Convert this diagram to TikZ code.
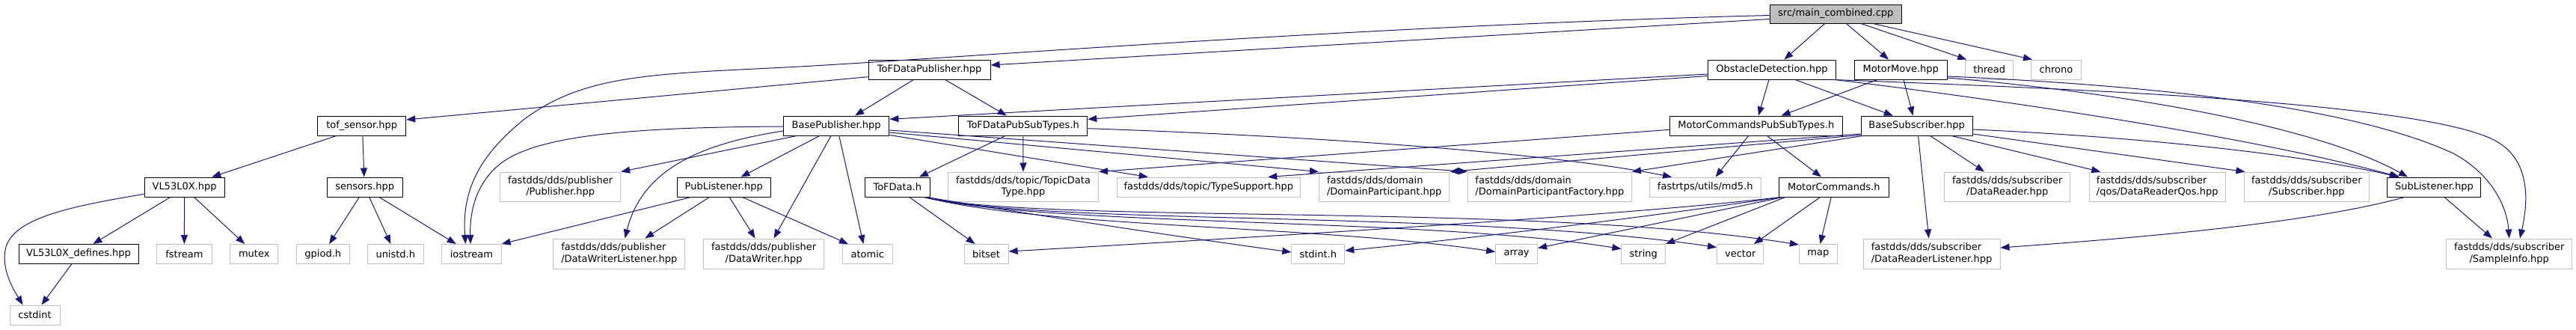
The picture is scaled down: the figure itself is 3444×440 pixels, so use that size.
\documentclass[tikz,border=0pt]{standalone}
\usepackage{fontspec}
\setmainfont{DejaVu Sans}
\usetikzlibrary{arrows.meta,calc}
\definecolor{edgeblue}{HTML}{191970}
\definecolor{grey75}{HTML}{BFBFBF}
\newcommand\dgfont{\fontsize{13}{15.3}\selectfont}
\begin{document}
\begin{tikzpicture}[x=1pt,y=-1pt,
  box/.style={rectangle, inner sep=0pt, line width=1pt, fill=white, text=black, font=\dgfont, minimum height=26pt},
  doc/.style={box, draw=black},
  ext/.style={box, draw=grey75},
  two/.style={minimum height=39pt, align=center},
  twol/.style={minimum height=39pt, align=left},
  dep/.style={draw=edgeblue, line width=1pt, -{Triangle[length=12pt,width=9pt]}}]
\fill[white] (0,0) rectangle (3444,440);
\useasboundingbox (0,0) rectangle (3444,440);

% row 0/1
\node[doc, fill=grey75, minimum width=176pt, minimum height=25pt] (main) at (2454.3,18.5) {src/main\_combined.cpp};
\node[doc, minimum width=170.7pt] (obst) at (2369,93) {ObstacleDetection.hpp};
\node[doc, minimum width=124pt] (mmove) at (2541.2,93) {MotorMove.hpp};
\node[ext, minimum width=64pt] (thread) at (2659.7,93) {thread};
\node[ext, minimum width=67pt] (chrono) at (2749,93) {chrono};
\node[doc, minimum width=163pt] (tofpub) at (1242.6,93) {ToFDataPublisher.hpp};
% row 2
\node[doc, minimum width=118pt] (tofsens) at (483.7,168) {tof\_sensor.hpp};
\node[doc, minimum width=141.4pt] (basepub) at (1118.2,168) {BasePublisher.hpp};
\node[doc, minimum width=172pt] (tofpst) at (1367.8,168) {ToFDataPubSubTypes.h};
\node[doc, minimum width=230.6pt] (mcpst) at (2347.8,168) {MotorCommandsPubSubTypes.h};
\node[doc, minimum width=149pt] (basesub) at (2562.6,168) {BaseSubscriber.hpp};
% row 3
\node[doc, minimum width=107pt] (vl) at (246.6,250) {VL53L0X.hpp};
\node[doc, minimum width=100.6pt] (sensors) at (487.7,250) {sensors.hpp};
\node[ext, two, minimum width=161pt] (publisher) at (749.2,249.5) {fastdds/dds/publisher\\/Publisher.hpp};
\node[doc, minimum width=125pt] (publ) at (967.7,250) {PubListener.hpp};
\node[doc, minimum width=87pt] (tofdata) at (1199.8,250) {ToFData.h};
\node[ext, two, minimum width=201pt] (topicdt) at (1368,249.5) {fastdds/dds/topic/TopicData\\Type.hpp};
\node[ext, minimum width=245pt] (typesup) at (1615.8,250) {fastdds/dds/topic/TypeSupport.hpp};
\node[ext, twol, minimum width=174.5pt] (dompart) at (1850.7,249.5) {fastdds/dds/domain\\/DomainParticipant.hpp};
\node[ext, twol, minimum width=219pt] (dompf) at (2071.9,249.5) {fastdds/dds/domain\\/DomainParticipantFactory.hpp};
\node[ext, minimum width=149pt] (md5) at (2279.7,250) {fastrtps/utils/md5.h};
\node[doc, minimum width=146.5pt] (mcmd) at (2451.8,250) {MotorCommands.h};
\node[ext, two, minimum width=168pt] (dreader) at (2683.7,249.5) {fastdds/dds/subscriber\\/DataReader.hpp};
\node[ext, twol, minimum width=182.4pt] (drqos) at (2884.2,249.5) {fastdds/dds/subscriber\\/qos/DataReaderQos.hpp};
\node[ext, two, minimum width=167.6pt] (subscr) at (3083.8,249.5) {fastdds/dds/subscriber\\/Subscriber.hpp};
\node[doc, minimum width=125pt] (sublist) at (3254.4,250) {SubListener.hpp};
% row 4
\node[doc, minimum width=160pt] (vldef) at (105,339.5) {VL53L0X\_defines.hpp};
\node[ext, minimum width=73.5pt] (fstream) at (246.4,339.5) {fstream};
\node[ext, minimum width=64pt] (mutex) at (339.8,339.5) {mutex};
\node[ext, minimum width=71pt] (gpiod) at (431.8,339.5) {gpiod.h};
\node[ext, minimum width=75pt] (unistd) at (528.8,339.5) {unistd.h};
\node[ext, minimum width=79.6pt] (iostream) at (630.4,339.5) {iostream};
\node[ext, twol, minimum width=176pt, minimum height=40pt] (dwl) at (827.8,339) {fastdds/dds/publisher\\/DataWriterListener.hpp};
\node[ext, two, minimum width=161.4pt, minimum height=40pt] (dw) at (1021.1,339) {fastdds/dds/publisher\\/DataWriter.hpp};
\node[ext, minimum width=66.6pt] (atomic) at (1159.8,339.5) {atomic};
\node[ext, minimum width=59pt] (bitset) at (1318.6,339.5) {bitset};
\node[ext, minimum width=71pt] (stdint) at (1762.3,339.5) {stdint.h};
\node[ext, minimum width=56pt] (array) at (2027.6,339.5) {array};
\node[ext, minimum width=58.5pt] (string) at (2197.2,339.5) {string};
\node[ext, minimum width=62.4pt] (vector) at (2326.7,339.5) {vector};
\node[ext, minimum width=51pt] (map) at (2430.8,339.5) {map};
\node[ext, twol, minimum width=183pt, minimum height=40pt] (drl) at (2582.5,339) {fastdds/dds/subscriber\\/DataReaderListener.hpp};
\node[ext, two, minimum width=168pt, minimum height=40pt] (sinfo) at (3354.7,339) {fastdds/dds/subscriber\\/SampleInfo.hpp};
% row 5
\node[ext, minimum width=67pt] (cstdint) at (46.5,421) {cstdint};

% main
\draw[dep] ($(main.south)+(-14.6,0)$) -- ($(obst.north)+(16.4,0)$);
\draw[dep] ($(main.south)+(14.1,0)$) -- ($(mmove.north)+(-16.2,0)$);
\draw[dep] ($(main.south)+(33.7,0)$) -- ($(thread.north west)+(2,0)$);
\draw[dep] ($(main.south)+(49.7,0)$) -- ($(chrono.north west)+(2,0)$);
\draw[dep] ($(main.west)+(0,7)$) -- ($(tofpub.east)+(0,-6)$);
\draw[dep] ($(main.west)+(0,2)$) .. controls (1800,35) and (1250,80) .. (1050,90) .. controls (870,99) and (780,100) .. (700,160) .. controls (645,205) and (617,250) .. ($(iostream.north)+(-8,0)$);
% obstacle detection
\draw[dep] ($(obst.south)+(-4,0)$) -- ($(mcpst.north)+(3.2,0)$);
\draw[dep] ($(obst.south)+(31,0)$) -- ($(basesub.north)+(-31.8,0)$);
\draw[dep] ($(obst.west)+(0,6)$) -- ($(basepub.east)+(0,-8.7)$);
\draw[dep] ($(obst.west)+(0,8.5)$) -- ($(tofpst.east)+(0,-8.7)$);
\draw[dep] ($(obst.south east)+(-2,0)$) .. controls (2650,130) and (3000,180) .. ($(sublist.north)+(-46.4,0)$);
\draw[dep] ($(obst.south east)+(-3,0)$) .. controls (2750,118) and (3220,135) .. (3330,185) .. controls (3385,210) and (3380,270) .. ($(sinfo.north)+(14.3,0)$);
% motor move
\draw[dep] ($(mmove.south)+(-31.4,0)$) -- ($(mcpst.north)+(33.8,0)$);
\draw[dep] ($(mmove.south)+(3.8,0)$) -- ($(basesub.north)+(-5,0)$);
\draw[dep] ($(mmove.east)+(0,11)$) .. controls (2850,125) and (3100,170) .. ($(sublist.north)+(-35.4,0)$);
\draw[dep] ($(mmove.east)+(0,9)$) .. controls (2900,115) and (3150,145) .. (3280,205) .. controls (3335,235) and (3352,280) .. (sinfo.north);
% base subscriber
\draw[dep] ($(basesub.east)+(0,5)$) .. controls (2800,180) and (3050,200) .. ($(sublist.north)+(-47.8,0)$);
\draw[dep] ($(basesub.east)+(0,11)$) -- ($(subscr.north west)+(2,0)$);
\draw[dep] ($(basesub.south)+(18,0)$) -- ($(dreader.north)+(-30.7,0)$);
\draw[dep] ($(basesub.south)+(46.4,0)$) -- ($(drqos.north)+(-76,0)$);
\draw[dep] ($(basesub.south)+(1.9,0)$) -- ($(drl.north)+(-3.8,0)$);
\draw[dep] ($(basesub.west)+(0,11)$) -- ($(typesup.north)+(79.5,0)$);
\draw[dep] ($(basesub.west)+(0,12.5)$) -- (dompart.north east);
\draw[dep] ($(basesub.south west)+(3,0)$) -- (dompf.north east);
% base publisher
\draw[dep] ($(basepub.west)+(0,1)$) .. controls (850,170) and (720,180) .. (670,218) .. controls (635,245) and (628,285) .. ($(iostream.north)+(-1.4,0)$);
\draw[dep] ($(basepub.west)+(0,7)$) .. controls (950,190) and (860,220) .. ($(dwl.north)+(7.7,0)$);
\draw[dep] ($(basepub.south)+(-53.2,0)$) -- (publisher.north east);
\draw[dep] ($(basepub.south)+(-22.5,0)$) -- ($(publ.north)+(22.8,0)$);
\draw[dep] ($(basepub.south)+(-7.2,0)$) -- ($(dw.north)+(13.4,0)$);
\draw[dep] ($(basepub.south)+(3.6,0)$) -- ($(atomic.north)+(-5.4,0)$);
\draw[dep] ($(basepub.south east)+(0,-1)$) -- ($(typesup.north)+(-81,0)$);
\draw[dep] ($(basepub.east)+(0,9)$) -- (dompart.north west);
\draw[dep] ($(basepub.east)+(0,6)$) -- (dompf.north west);
% tof data publisher
\draw[dep] ($(tofpub.west)+(0,9.7)$) -- ($(tofsens.east)+(0,-8)$);
\draw[dep] ($(tofpub.south)+(-21.2,0)$) -- ($(basepub.north)+(24.8,0)$);
\draw[dep] ($(tofpub.south)+(20.9,0)$) -- ($(tofpst.north)+(-22,0)$);
% tof pubsub types
\draw[dep] ($(tofpst.south)+(-23.9,0)$) -- ($(tofdata.north)+(29.2,0)$);
\draw[dep] (tofpst.south) -- (topicdt.north);
\draw[dep] ($(tofpst.east)+(0,3.7)$) .. controls (1700,180) and (2050,200) .. ($(md5.north)+(-44.7,0)$);
% motor commands pubsub types
\draw[dep] ($(mcpst.west)+(0,5.3)$) -- (topicdt.north east);
\draw[dep] ($(mcpst.south)+(-10.2,0)$) -- ($(md5.north)+(13.9,0)$);
\draw[dep] ($(mcpst.south)+(14.7,0)$) -- ($(mcmd.north)+(-16.8,0)$);
% tof sensor
\draw[dep] ($(tofsens.south)+(-34,0)$) -- ($(vl.north)+(36.6,0)$);
\draw[dep] ($(tofsens.south)+(1.2,0)$) -- ($(sensors.north)+(-0.9,0)$);
% VL53L0X
\draw[dep] ($(vl.west)+(0,9.3)$) .. controls (100,275) and (20,290) .. (8,330) .. controls (0,360) and (20,390) .. ($(cstdint.north)+(-15.9,0)$);
\draw[dep] ($(vl.south)+(-18.9,0)$) -- ($(vldef.north)+(19.4,0)$);
\draw[dep] (vl.south) -- (fstream.north);
\draw[dep] ($(vl.south)+(12.9,0)$) -- ($(mutex.north)+(-12.6,0)$);
\draw[dep] ($(vldef.south)+(-9.3,0)$) -- ($(cstdint.north)+(9,0)$);
% sensors
\draw[dep] ($(sensors.south)+(-7.4,0)$) -- ($(gpiod.north)+(8.3,0)$);
\draw[dep] ($(sensors.south)+(6,0)$) -- ($(unistd.north)+(-6.4,0)$);
\draw[dep] ($(sensors.south)+(19.3,0)$) -- ($(iostream.north)+(-20.7,0)$);
% pub listener
\draw[dep] ($(publ.south)+(-44.2,0)$) -- (iostream.north east);
\draw[dep] ($(publ.south)+(-19.3,0)$) -- ($(dwl.north)+(34.5,0)$);
\draw[dep] ($(publ.south)+(7.5,0)$) -- ($(dw.north)+(-11.5,0)$);
\draw[dep] ($(publ.south)+(24.7,0)$) -- ($(atomic.north)+(-25.8,0)$);
% tof data
\draw[dep] ($(tofdata.south)+(16,0)$) -- ($(bitset.north)+(-15,0)$);
\draw[dep] ($(tofdata.south east)+(-5,0)$) .. controls (1400,290) and (1600,320) .. ($(stdint.west)+(0,-2.5)$);
\draw[dep] ($(tofdata.south east)+(-8,0)$) .. controls (1400,305) and (1750,300) .. ($(array.west)+(0,-3)$);
\draw[dep] ($(tofdata.south east)+(-8,0)$) .. controls (1400,303) and (1900,290) .. ($(string.west)+(0,-7)$);
\draw[dep] ($(tofdata.south east)+(-8,0)$) .. controls (1400,302) and (1950,280) .. ($(vector.west)+(0,-9)$);
\draw[dep] ($(tofdata.south east)+(-8,0)$) .. controls (1400,300) and (2050,270) .. ($(map.north west)+(0,1)$);
% motor commands
\draw[dep] ($(mcmd.south west)+(2,0)$) .. controls (2200,285) and (1800,310) .. ($(bitset.east)+(0,-3.5)$);
\draw[dep] ($(mcmd.south west)+(4,0)$) .. controls (2200,290) and (2000,315) .. ($(stdint.east)+(0,-4.5)$);
\draw[dep] ($(mcmd.south west)+(6,0)$) -- ($(array.east)+(0,-8)$);
\draw[dep] ($(mcmd.south west)+(9,0)$) -- (string.north east);
\draw[dep] ($(mcmd.south)+(-18.3,0)$) -- ($(vector.north)+(18.3,0)$);
\draw[dep] ($(mcmd.south)+(-3.6,0)$) -- ($(map.north)+(2.7,0)$);
% sub listener
\draw[dep] ($(sublist.south)+(13.6,0)$) -- ($(sinfo.north)+(-22.8,0)$);
\draw[dep] ($(sublist.south)+(-39.6,0)$) .. controls (3100,295) and (2900,315) .. ($(drl.east)+(0,-8)$);
\end{tikzpicture}
\end{document}
